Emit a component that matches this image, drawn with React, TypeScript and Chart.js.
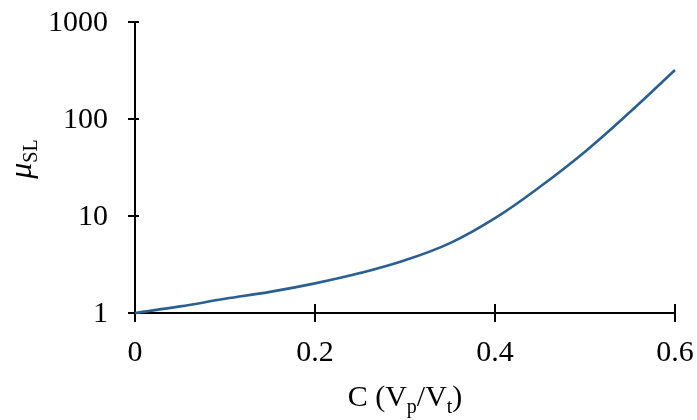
import React, { useEffect, useRef } from "react";
import { Chart, registerables } from "chart.js";

Chart.register(...registerables);

// Particle volume fraction C and relative viscosity μ_SL
const concentration = [0, 0.05, 0.1, 0.15, 0.2, 0.25, 0.3, 0.35, 0.4, 0.45, 0.5, 0.55, 0.6];
const viscosity = [1, 1.17, 1.4, 1.65, 2.02, 2.58, 3.5, 5.25, 9.5, 20, 46, 118, 320];

const xTicks = [0, 0.2, 0.4, 0.6];
const xTickLabels = ["0", "0.2", "0.4", "0.6"];
const yTicks = [1, 10, 100, 1000];
const yTickLabels = ["1", "10", "100", "1000"];

const SERIF = '"Liberation Serif", "Times New Roman", serif';
const LINE_COLOR = "#2a5f91";

type Segment = { text: string; size: number; shift: number; italic?: boolean };

function drawRich(ctx: CanvasRenderingContext2D, segs: Segment[], cx: number, baseline: number) {
  const fontOf = (s: Segment) => `${s.italic ? "italic " : ""}${s.size}px ${SERIF}`;
  let total = 0;
  for (const s of segs) {
    ctx.font = fontOf(s);
    total += ctx.measureText(s.text).width;
  }
  let x = cx - total / 2;
  ctx.textAlign = "left";
  ctx.textBaseline = "alphabetic";
  for (const s of segs) {
    ctx.font = fontOf(s);
    ctx.fillText(s.text, x, baseline + s.shift);
    x += ctx.measureText(s.text).width;
  }
}

const axesPlugin = {
  id: "crossAxes",
  beforeDatasetsDraw(chart: any) {
    const { ctx, chartArea, scales } = chart;
    const xs = scales.x;
    const ys = scales.y;
    ctx.save();
    ctx.strokeStyle = "#000";
    ctx.lineWidth = 2;
    // axis lines
    ctx.beginPath();
    ctx.moveTo(chartArea.left, chartArea.top);
    ctx.lineTo(chartArea.left, chartArea.bottom);
    ctx.moveTo(chartArea.left - 7, chartArea.bottom);
    ctx.lineTo(chartArea.right, chartArea.bottom);
    ctx.stroke();

    // y ticks and labels
    ctx.fillStyle = "#000";
    ctx.font = `30px ${SERIF}`;
    ctx.textAlign = "right";
    ctx.textBaseline = "middle";
    yTicks.forEach((v, i) => {
      const py = ys.getPixelForValue(v);
      ctx.beginPath();
      ctx.moveTo(chartArea.left - 7, py);
      ctx.lineTo(chartArea.left + 4, py);
      ctx.stroke();
      ctx.fillText(yTickLabels[i], chartArea.left - 27, py + 1);
    });

    // x ticks and labels
    ctx.textAlign = "center";
    ctx.textBaseline = "middle";
    xTicks.forEach((v, i) => {
      const px = xs.getPixelForValue(v);
      ctx.beginPath();
      ctx.moveTo(px, chartArea.bottom - 9);
      ctx.lineTo(px, chartArea.bottom + 9);
      ctx.stroke();
      ctx.fillText(xTickLabels[i], px, chartArea.bottom + 40);
    });

    // x axis title: C (Vp/Vt)
    const midX = (chartArea.left + chartArea.right) / 2;
    drawRich(
      ctx,
      [
        { text: "C (V", size: 30, shift: 0 },
        { text: "p", size: 20, shift: 7 },
        { text: "/V", size: 30, shift: 0 },
        { text: "t", size: 20, shift: 7 },
        { text: ")", size: 30, shift: 0 },
      ],
      midX,
      406
    );

    // y axis title: μSL, rotated
    ctx.translate(31, 159);
    ctx.rotate(-Math.PI / 2);
    drawRich(
      ctx,
      [
        { text: "μ", size: 32, shift: 0, italic: true },
        { text: "SL", size: 20, shift: 6 },
      ],
      0,
      0
    );
    ctx.restore();
  },
};

export default function App() {
  const canvasRef = useRef<HTMLCanvasElement | null>(null);

  useEffect(() => {
    document.body.style.margin = "0";
    const canvas = canvasRef.current;
    if (!canvas) return;
    const chart = new Chart(canvas, {
      type: "line",
      data: {
        datasets: [
          {
            data: concentration.map((c, i) => ({ x: c, y: viscosity[i] })),
            borderColor: LINE_COLOR,
            borderWidth: 2.6,
            pointRadius: 0,
            tension: 0.4,
            fill: false,
            clip: false as any,
          },
        ],
      },
      options: {
        animation: false,
        responsive: false,
        maintainAspectRatio: false,
        layout: { padding: { left: 135, right: 22, top: 22, bottom: 107 } },
        plugins: { legend: { display: false }, tooltip: { enabled: false } },
        scales: {
          x: { type: "linear", min: 0, max: 0.6, display: false },
          y: { type: "logarithmic", min: 1, max: 1000, display: false },
        },
      },
      plugins: [axesPlugin],
    });
    return () => chart.destroy();
  }, []);

  return (
    <div style={{ width: 697, height: 420, background: "#fff" }}>
      <canvas ref={canvasRef} width={697} height={420} />
    </div>
  );
}
